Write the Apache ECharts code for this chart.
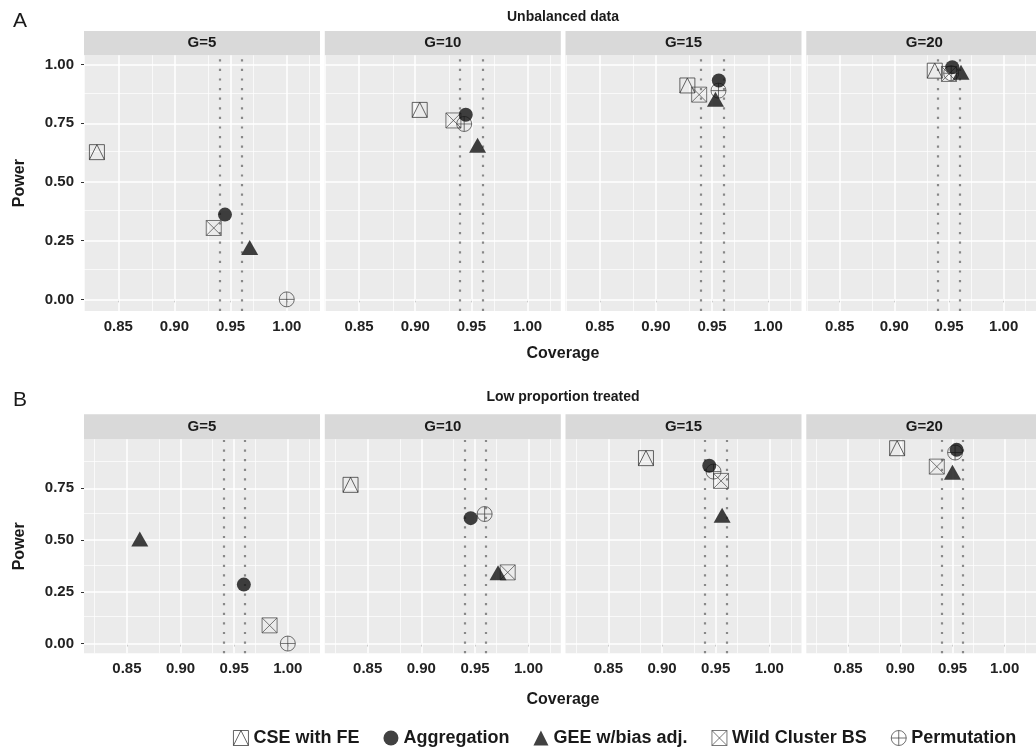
<!DOCTYPE html>
<html><head><meta charset="utf-8">
<script src="https://cdn.jsdelivr.net/npm/echarts@6/dist/echarts.min.js"></script>
<style>html,body{margin:0;padding:0;background:#fff}#c{width:1036px;height:749px}</style>
</head><body><div id="c"></div>
<script>
// ---------- data ----------
const groups = ['G=5', 'G=10', 'G=15', 'G=20'];
const methods = ['CSE with FE', 'Aggregation', 'GEE w/bias adj.', 'Wild Cluster BS', 'Permutation'];
const xTickValues = [0.85, 0.90, 0.95, 1.00];
const yTickValuesA = [0, 0.25, 0.5, 0.75, 1.0];
const yTickValuesB = [0, 0.25, 0.5, 0.75];
const coverageBounds = [0.9365, 0.9635];

// Panel A: Unbalanced data (one value per group G=5,10,15,20)
const covA_cse  = [0.831, 0.904, 0.928, 0.937];
const powA_cse  = [0.627, 0.807, 0.911, 0.974];
const covA_agg  = [0.945, 0.945, 0.956, 0.953];
const powA_agg  = [0.361, 0.786, 0.932, 0.989];
const covA_gee  = [0.967, 0.9555, 0.953, 0.961];
const powA_gee  = [0.221, 0.656, 0.852, 0.967];
const covA_wcb  = [0.935, 0.934, 0.9385, 0.950];
const powA_wcb  = [0.304, 0.762, 0.872, 0.960];
const covA_perm = [1.000, 0.9436, 0.9557, 0.952];
const powA_perm = [0.000, 0.747, 0.889, 0.963];

// Panel B: Low proportion treated
const covB_cse  = [null, 0.834, 0.885, 0.897];
const powB_cse  = [null, 0.767, 0.896, 0.944];
const covB_agg  = [0.959, 0.946, 0.944, 0.954];
const powB_agg  = [0.285, 0.606, 0.859, 0.936];
const covB_gee  = [0.862, 0.9715, 0.956, 0.950];
const powB_gee  = [0.505, 0.342, 0.620, 0.828];
const covB_wcb  = [0.983, 0.9805, 0.955, 0.935];
const powB_wcb  = [0.088, 0.344, 0.786, 0.855];
const covB_perm = [1.000, 0.959, 0.948, 0.9525];
const powB_perm = [0.000, 0.626, 0.831, 0.923];

// ---------- layout / style ----------
const FONT = '"Liberation Sans", Arial, Helvetica, sans-serif';
const panelLeft = [84, 324.8, 565.5, 806.3];
const panelW = 236;
const rows = [
  { key: 'A', title: 'Unbalanced data', top: 55.3, h: 255.7, stripH: 24.3,
    xr: [0.8195, 1.0296], yr: [-0.0495, 1.0395], yTicks: yTickValuesA,
    yMinor: [0.125, 0.375, 0.625, 0.875],
    cov: [covA_cse, covA_agg, covA_gee, covA_wcb, covA_perm],
    pow: [powA_cse, powA_agg, powA_gee, powA_wcb, powA_perm],
    titleY: 17, letterY: 21, covY: 354 },
  { key: 'B', title: 'Low proportion treated', top: 439.3, h: 214, stripH: 25,
    xr: [0.81, 1.0300], yr: [-0.047, 0.987], yTicks: yTickValuesB,
    yMinor: [0.125, 0.375, 0.625, 0.875],
    cov: [covB_cse, covB_agg, covB_gee, covB_wcb, covB_perm],
    pow: [powB_cse, powB_agg, powB_gee, powB_wcb, powB_perm],
    titleY: 397, letterY: 400, covY: 700 }
];
const xMinor = [0.825, 0.875, 0.925, 0.975, 1.025];

const P_CSE  = 'path://M0 0L20 0L20 20L0 20Z M0 20L10 0L20 20';
const P_WCB  = 'path://M0 0L20 0L20 20L0 20Z M0 0L20 20 M20 0L0 20';
const P_PERM = 'path://M0 10A10 10 0 1 1 20 10A10 10 0 1 1 0 10Z M10 0L10 20 M0 10L20 10';
const openStyle = c => ({ color: 'rgba(0,0,0,0)', borderColor: c, borderWidth: 0.9 });
const symSpec = [
  { symbol: P_CSE, size: 15, style: openStyle('#2a2a2a') },
  { symbol: 'circle', size: 14, style: { color: '#111' } },
  { symbol: 'triangle', size: [17, 15], style: { color: '#111' } },
  { symbol: P_WCB, size: 15, style: openStyle('#444') },
  { symbol: P_PERM, size: 15, style: openStyle('#3a3a3a') }
];
const drawOrder = [0, 3, 4, 1, 2];

const grids = [], xAxes = [], yAxes = [], series = [], graphics = [];
const labelStyle = { fontFamily: FONT, fontWeight: 'bold', fontSize: 15, color: '#222' };

rows.forEach((row, r) => {
  graphics.push({ type: 'text', x: 563, y: row.titleY, style: { text: row.title, fontFamily: FONT, fontWeight: 'bold', fontSize: 14, fill: '#1a1a1a', textAlign: 'center', textVerticalAlign: 'middle' } });
  graphics.push({ type: 'text', x: 20, y: row.letterY, style: { text: row.key, fontFamily: FONT, fontSize: 21, fill: '#1a1a1a', textAlign: 'center', textVerticalAlign: 'middle' } });
  graphics.push({ type: 'text', x: 563, y: row.covY, style: { text: 'Coverage', fontFamily: FONT, fontWeight: 'bold', fontSize: 16, fill: '#1a1a1a', textAlign: 'center', textVerticalAlign: 'middle' } });
  groups.forEach((g, c) => {
    const gi = r * 4 + c;
    grids.push({ left: panelLeft[c], top: row.top, width: panelW, height: row.h, show: true, backgroundColor: '#EBEBEB', borderWidth: 0 });
    graphics.push({ type: 'rect', shape: { x: panelLeft[c], y: row.top - row.stripH, width: panelW, height: row.stripH }, style: { fill: '#D9D9D9' } });
    graphics.push({ type: 'text', x: panelLeft[c] + panelW / 2, y: row.top - row.stripH / 2, style: { text: g, fontFamily: FONT, fontWeight: 'bold', fontSize: 15, fill: '#1a1a1a', textAlign: 'center', textVerticalAlign: 'middle' } });
    xAxes.push({
      type: 'value', gridIndex: gi, min: row.xr[0], max: row.xr[1],
      axisLine: { show: false }, splitLine: { show: false },
      axisTick: { show: true, length: 3, customValues: xTickValues, lineStyle: { color: '#333', width: 1 } },
      axisLabel: { show: true, customValues: xTickValues, margin: 8, formatter: v => v.toFixed(2), ...labelStyle }
    });
    yAxes.push({
      type: 'value', gridIndex: gi, min: row.yr[0], max: row.yr[1],
      name: c === 0 ? 'Power' : '', nameLocation: 'middle', nameGap: 56,
      nameTextStyle: { fontFamily: FONT, fontWeight: 'bold', fontSize: 16, color: '#1a1a1a' },
      axisLine: { show: false }, splitLine: { show: false },
      axisTick: { show: c === 0, length: 3, customValues: row.yTicks, lineStyle: { color: '#333', width: 1 } },
      axisLabel: { show: c === 0, customValues: row.yTicks, margin: 10, formatter: v => v.toFixed(2), ...labelStyle }
    });
    const ml = [];
    xMinor.forEach(v => ml.push({ xAxis: v, lineStyle: { color: '#fff', width: 0.7, type: 'solid' } }));
    row.yMinor.forEach(v => ml.push({ yAxis: v, lineStyle: { color: '#fff', width: 0.7, type: 'solid' } }));
    xTickValues.forEach(v => ml.push({ xAxis: v, lineStyle: { color: '#fff', width: 1.5, type: 'solid' } }));
    row.yTicks.forEach(v => ml.push({ yAxis: v, lineStyle: { color: '#fff', width: 1.5, type: 'solid' } }));
    coverageBounds.forEach(v => ml.push({ xAxis: v, lineStyle: { color: '#888', width: 2.2, type: [2.2, 7.4] } }));
    series.push({
      type: 'scatter', name: '_grid' + gi, xAxisIndex: gi, yAxisIndex: gi, data: [], silent: true,
      markLine: { silent: true, symbol: 'none', z: 1, animation: false, label: { show: false }, emphasis: { disabled: true }, data: ml }
    });
    drawOrder.forEach(m => {
      const x = row.cov[m][c], y = row.pow[m][c];
      const s = symSpec[m];
      series.push({
        type: 'scatter', name: methods[m], xAxisIndex: gi, yAxisIndex: gi, z: 3,
        data: x == null ? [] : [[x, y]],
        symbol: s.symbol, symbolSize: s.size, itemStyle: s.style,
        emphasis: { disabled: true }
      });
    });
  });
});

const chart = echarts.init(document.getElementById('c'), null, { renderer: 'canvas' });
chart.setOption({
  backgroundColor: '#fff',
  animation: false,
  grid: grids, xAxis: xAxes, yAxis: yAxes, series: series,
  graphic: graphics,
  legend: {
    left: 228, top: 724, itemWidth: 15, itemHeight: 15, itemGap: 24, selectedMode: false,
    textStyle: { fontFamily: FONT, fontWeight: 'bold', fontSize: 18, color: '#1a1a1a' },
    data: methods.map((name, m) => ({ name, icon: symSpec[m].symbol, itemStyle: symSpec[m].style }))
  }
});
</script></body></html>
